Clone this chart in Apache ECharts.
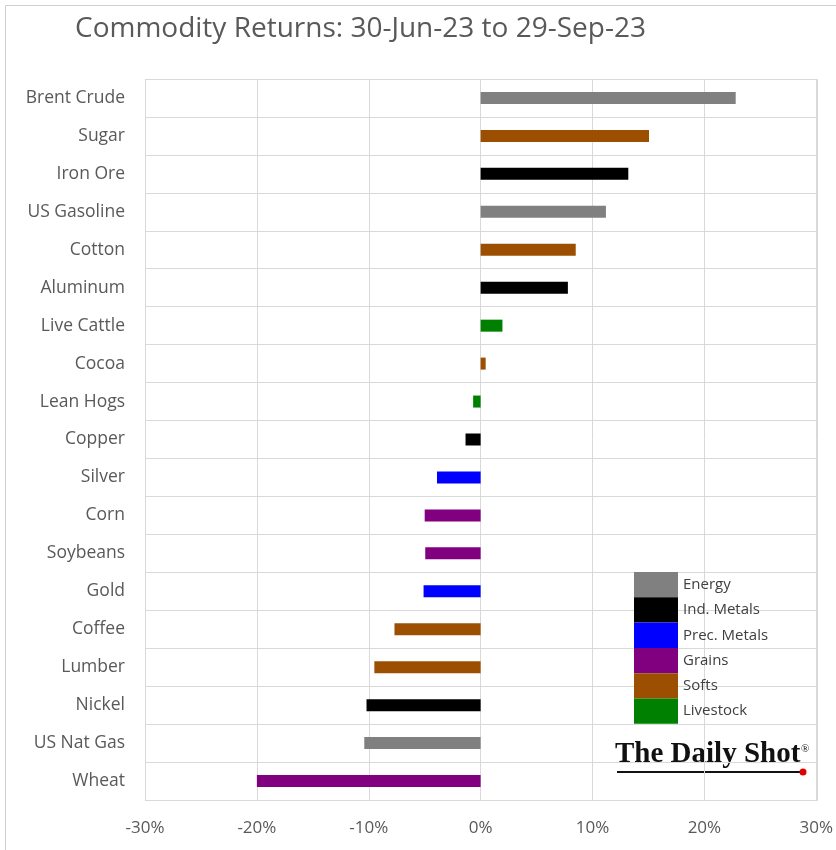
<!DOCTYPE html>
<html>
<head>
<meta charset="utf-8">
<script src="https://cdn.jsdelivr.net/npm/echarts@6/dist/echarts.min.js"></script>
<style>html,body{margin:0;padding:0;background:#fff}#c{width:836px;height:850px}</style>
</head>
<body>
<div id="c"></div>
<script>
var categories = ['Brent Crude','Sugar','Iron Ore','US Gasoline','Cotton','Aluminum','Live Cattle','Cocoa','Lean Hogs','Copper','Silver','Corn','Soybeans','Gold','Coffee','Lumber','Nickel','US Nat Gas','Wheat'];
var returns = [22.8, 15.05, 13.2, 11.2, 8.5, 7.8, 1.95, 0.45, -0.67, -1.35, -3.9, -5.0, -4.95, -5.1, -7.7, -9.5, -10.2, -10.4, -20.0];
var groups = ['Energy','Softs','Ind. Metals','Energy','Softs','Ind. Metals','Livestock','Softs','Livestock','Ind. Metals','Prec. Metals','Grains','Grains','Prec. Metals','Softs','Softs','Ind. Metals','Energy','Grains'];
var groupNames = ['Energy','Ind. Metals','Prec. Metals','Grains','Softs','Livestock'];
var groupColors = ['#808080','#000000','#0000ff','#800080','#9c4f00','#008000'];
var xTicks = [-30,-20,-10,0,10,20,30];

var font = 'Open Sans, Noto Sans, sans-serif';
var series = groupNames.map(function(g, gi){
  return {
    name: g, type: 'bar', stack: 'all', barWidth: 12,
    itemStyle: {color: groupColors[gi]},
    data: returns.map(function(v, i){ return groups[i] === g ? v : '-'; })
  };
});

var chart = echarts.init(document.getElementById('c'), null, {renderer:'canvas'});
chart.setOption({
  animation: false,
  backgroundColor: '#ffffff',
  title: {
    text: 'Commodity Returns: 30-Jun-23 to 29-Sep-23',
    left: 70, top: 10,
    textStyle: {fontFamily: font, fontSize: 28, fontWeight: 'normal', color: '#595959'}
  },
  legend: {
    orient: 'vertical', left: 634, top: 572, padding: 0,
    itemWidth: 44, itemHeight: 25.3, itemGap: 0,
    icon: 'rect',
    data: groupNames,
    textStyle: {fontFamily: font, fontSize: 15, color: '#404040'},
    selectedMode: false
  },
  grid: {left: 145, right: 18, top: 79, bottom: 50, containLabel: false},
  xAxis: {
    type: 'value', min: -30, max: 30, interval: 10,
    axisLabel: {formatter: function(v){ return xTicks.indexOf(v) >= 0 ? v + '%' : ''; }, fontFamily: font, fontSize: 17, color: '#595959', margin: 20},
    axisLine: {show: false}, axisTick: {show: false},
    splitLine: {show: true, lineStyle: {color: '#d9d9d9', width: 1}}
  },
  yAxis: {
    type: 'category', data: categories, inverse: true,
    axisLabel: {fontFamily: font, fontSize: 17.5, color: '#595959', margin: 20},
    axisLine: {show: false}, axisTick: {show: false},
    splitLine: {show: true, lineStyle: {color: '#d9d9d9', width: 1}}
  },
  series: series,
  graphic: [
    {type: 'rect', shape: {x: 5.5, y: 5.5, width: 900, height: 900}, style: {fill: null, stroke: '#d0d0d0', lineWidth: 1}, silent: true},
    {type: 'rect', shape: {x: 145.5, y: 79.5, width: 672, height: 721}, style: {fill: null, stroke: '#d9d9d9', lineWidth: 1}, silent: true, z: -1},
    {type: 'text', left: 615, top: 740, style: {text: 'The Daily Shot', font: 'bold 29px "Liberation Serif", "DejaVu Serif", serif', fill: '#111111'}},
    {type: 'text', left: 801, top: 744, style: {text: '®', font: '11px "Liberation Serif", serif', fill: '#111111'}},
    {type: 'line', shape: {x1: 617, y1: 772, x2: 800, y2: 772}, style: {stroke: '#111111', lineWidth: 2}},
    {type: 'circle', shape: {cx: 803, cy: 772, r: 3.5}, style: {fill: '#e00000'}}
  ]
});
</script>
</body>
</html>
